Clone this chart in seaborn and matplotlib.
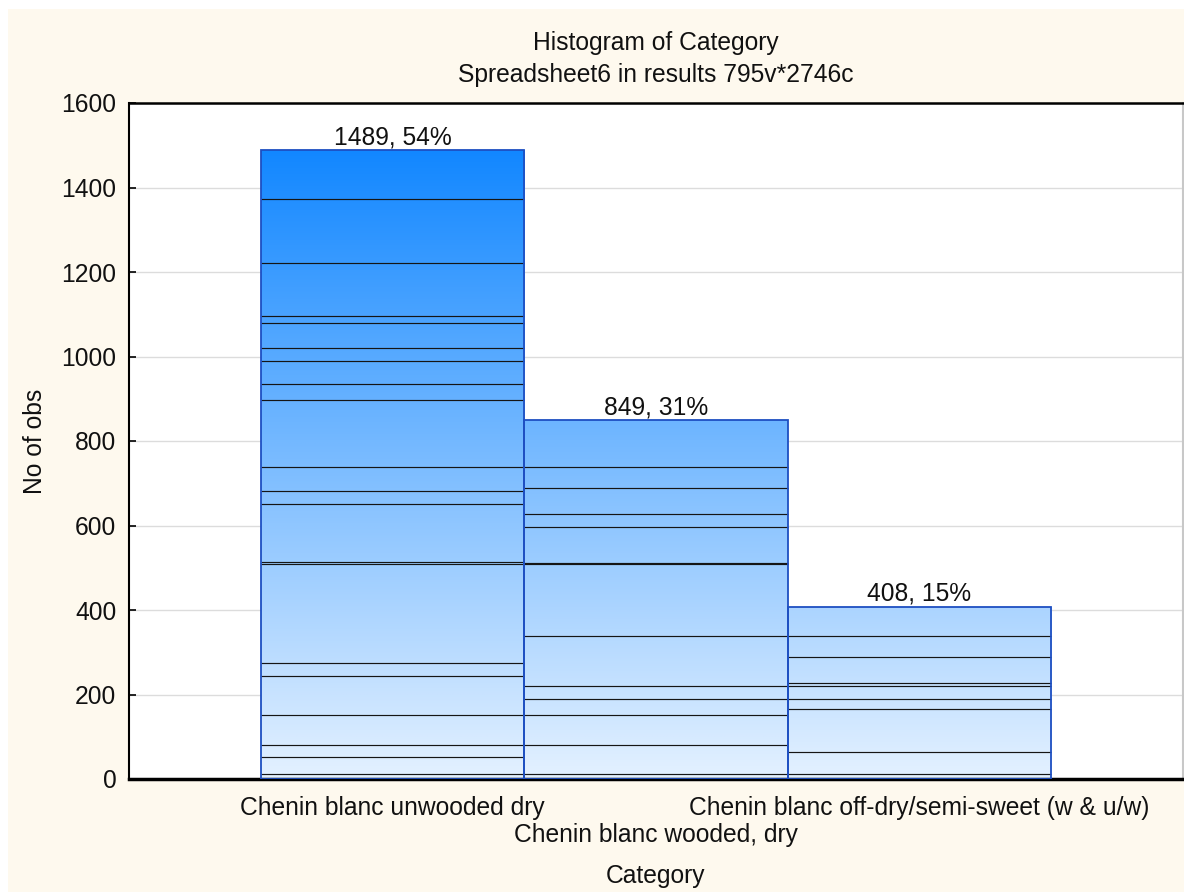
import numpy as np
import pandas as pd
import matplotlib
matplotlib.use("Agg")
import matplotlib.pyplot as plt
import seaborn as sns
from matplotlib.colors import LinearSegmentedColormap
from matplotlib.patches import Rectangle

# ---- data -------------------------------------------------------------
categories = [
    "Chenin blanc unwooded dry",
    "Chenin blanc wooded, dry",
    "Chenin blanc off-dry/semi-sweet (w & u/w)",
]
counts = [1489, 849, 408]
percents = [54, 31, 15]

# cumulative sub-group boundaries drawn inside each bar
levels_unwooded = [13, 51, 80, 151, 243, 274, 509, 513, 651, 681, 738,
                   897, 934, 989, 1019, 1079, 1096, 1221, 1372]
levels_wooded = [13, 80, 151, 189, 219, 338, 509, 512, 596, 627, 688, 738]
levels_offdry = [13, 63, 165, 189, 219, 227, 288, 338]

y_ticks = [0, 200, 400, 600, 800, 1000, 1200, 1400, 1600]

title_main = "Histogram of Category"
title_sub = "Spreadsheet6 in results 795v*2746c"

# ---- style ------------------------------------------------------------
sns.set_theme(style="white")
plt.rcParams["font.family"] = ["Liberation Sans", "DejaVu Sans"]
FS = 17.7

W, H = 1184, 892
fig = plt.figure(figsize=(W / 100, H / 100), dpi=100)
fig.patch.set_facecolor("white")
fig.add_artist(Rectangle((8 / W, 0), 1 - 8 / W, 1 - 9 / H,
                         transform=fig.transFigure, facecolor="#FEF9EE",
                         edgecolor="none", zorder=0))

ax = fig.add_axes([129 / W, 1 - 779 / H, (1183 - 129) / W, (779 - 103) / H])
ax.set_facecolor("white")

df = pd.DataFrame({"Category": categories, "n": counts})
sns.barplot(data=df, x="Category", y="n", width=1.0, ax=ax,
            color="white", edgecolor="#1E4FC2", linewidth=1.3,
            saturation=1, zorder=3)

# vertical blue gradient shared by all bars
cmap = LinearSegmentedColormap.from_list("bar_blues", ["#E4F1FF", "#1287FF"])
top = max(counts)
grad = np.linspace(0, 1, 512).reshape(-1, 1)
bars = list(ax.patches)
for patch, levels in zip(bars, [levels_unwooded, levels_wooded, levels_offdry]):
    x0, w = patch.get_x(), patch.get_width()
    im = ax.imshow(grad, extent=(x0, x0 + w, 0, top), origin="lower",
                   cmap=cmap, vmin=0, vmax=1, aspect="auto", zorder=2,
                   interpolation="bilinear")
    im.set_clip_path(patch)
    patch.set_facecolor("none")
    ax.hlines(levels, x0, x0 + w, colors="#151515", linewidth=0.85, zorder=2.5)

ax.bar_label(ax.containers[0],
             labels=[f"{c}, {p}%" for c, p in zip(counts, percents)],
             padding=0.5, fontsize=FS, color="#111111")

# ---- axes -------------------------------------------------------------
ax.set_xlim(-1, 3)
ax.set_ylim(0, 1600)
ax.set_yticks(y_ticks)
ax.yaxis.grid(True, color="#DCDCDC", linewidth=1.0)
ax.set_axisbelow(True)

for side, (col, lw) in {"top": ("black", 1.8), "left": ("black", 1.5),
                        "bottom": ("black", 2.5), "right": ("#C8C8C8", 1.5)}.items():
    ax.spines[side].set_visible(True)
    ax.spines[side].set_color(col)
    ax.spines[side].set_linewidth(lw)

ax.tick_params(axis="both", direction="in", length=5, width=1.2,
               color="black", labelsize=FS, labelcolor="#111111")
ax.tick_params(axis="y", pad=9, left=True)
ax.tick_params(axis="x", pad=12, bottom=True)
ax.xaxis.get_major_ticks()[1].set_pad(31.5)

ax.set_xlabel("Category", fontsize=FS, color="#111111")
ax.set_ylabel("No of obs", fontsize=FS, color="#111111")
ax.xaxis.set_label_coords(0.5, -0.126)
ax.yaxis.set_label_coords(-0.078, 0.5)

fig.text(656 / W, 1 - 43 / H, title_main, ha="center", va="center",
         fontsize=FS, color="#111111")
fig.text(656 / W, 1 - 75 / H, title_sub, ha="center", va="center",
         fontsize=FS, color="#111111")

fig.savefig("out.png", dpi=100, facecolor=fig.get_facecolor())
